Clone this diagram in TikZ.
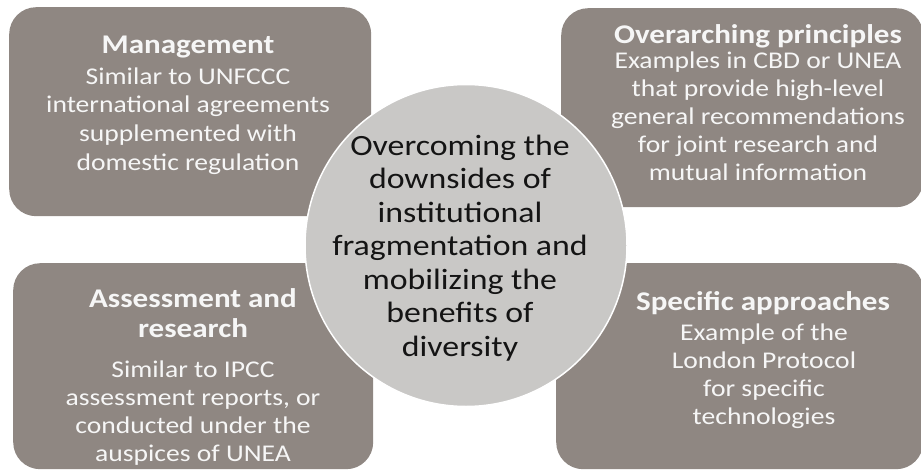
\documentclass[tikz,border=0pt]{standalone}
\usepackage{fontspec}
\setmainfont{Carlito}[FakeStretch=1.15]
\definecolor{panelfill}{RGB}{143,135,130}
\definecolor{hubfill}{RGB}{201,200,198}
\definecolor{paneltext}{RGB}{246,246,246}
\definecolor{hubtext}{RGB}{20,20,20}
% stacked centred lines whose baseline is the first line's baseline
\newcommand{\stackc}[1]{\begin{tabular}[t]{@{}c@{}}#1\end{tabular}}
\begin{document}
\begin{tikzpicture}[x=1pt,y=-1pt,
  panel/.style={fill=panelfill, draw=none, rounded corners=27pt, anchor=north west, inner sep=0pt},
  paneltitle/.style={anchor=base, inner sep=0pt, text=paneltext, font=\bfseries\fontsize{27}{30}\selectfont},
  panelbody/.style={anchor=base, inner sep=0pt, text=paneltext, font=\fontsize{24}{28.2}\selectfont},
  hub/.style={circle, fill=hubfill, draw=white, line width=1.5pt, minimum size=322pt, inner sep=0pt},
  hubtitle/.style={anchor=base, inner sep=0pt, text=hubtext, font=\fontsize{29.4}{33.5}\selectfont}]
  \useasboundingbox (0,0) rectangle (921,471);

  % four surrounding panels
  \node[panel, minimum width=362pt, minimum height=209pt] (mgmt) at (9,7) {};
  \node[panel, minimum width=362pt, minimum height=199pt] (princ) at (561,8) {};
  \node[panel, minimum width=360pt, minimum height=206pt] (assess) at (13,263) {};
  \node[panel, minimum width=367pt, minimum height=206pt] (specific) at (556,263) {};

  % panel texts
  \node[paneltitle] (mgmt-t) at (188,53) {Management};
  \node[panelbody, font=\fontsize{24}{28.7}\selectfont] (mgmt-b) at (188,84) {\stackc{Similar to UNFCCC\\international agreements\\supplemented with\\domestic regulation}};

  \node[paneltitle] (princ-t) at (758,43) {Overarching principles};
  \node[panelbody] (princ-b) at (758,68) {\stackc{Examples in CBD or UNEA\\that provide high-level\\general recommendations\\for joint research and\\mutual information}};

  \node[paneltitle] (assess-t) at (193,307) {\stackc{Assessment and\\research}};
  \node[panelbody] (assess-b) at (193,377) {\stackc{Similar to IPCC\\assessment reports, or\\conducted under the\\auspices of UNEA}};

  \node[paneltitle] (specific-t) at (763,310) {Specific approaches};
  \node[panelbody] (specific-b) at (764,340) {\stackc{Example of the\\London Protocol\\for specific\\technologies}};

  % central circle
  \node[hub] (core) at (466,245.5) {};
  \node[hubtitle] (core-t) at (460,155) {\stackc{Overcoming the\\downsides of\\institutional\\fragmentation and\\mobilizing the\\benefits of\\diversity}};
\end{tikzpicture}
\end{document}
